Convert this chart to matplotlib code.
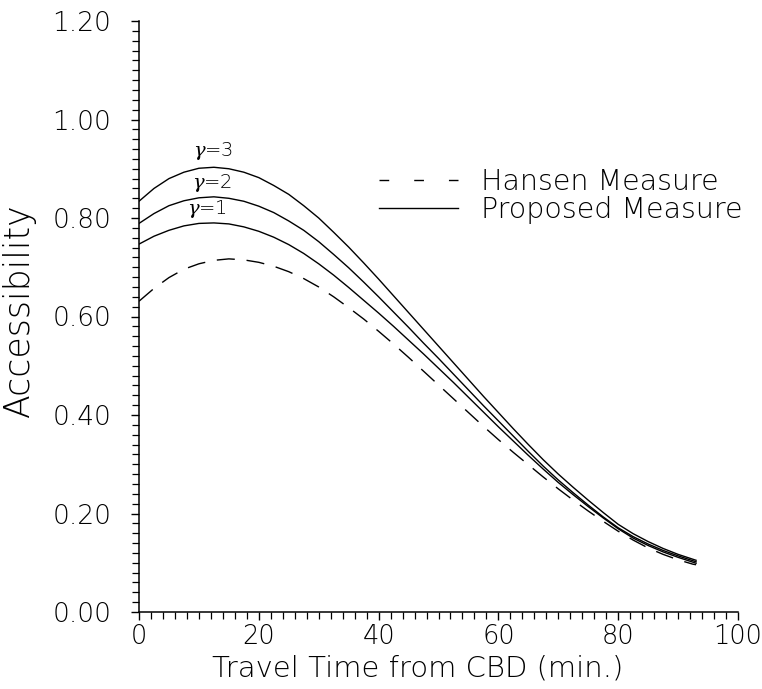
import os
import matplotlib
matplotlib.use("Agg")
import matplotlib.pyplot as plt
import matplotlib.font_manager as fm
from matplotlib.lines import Line2D
from matplotlib.ticker import MultipleLocator, FormatStrFormatter

# travel time from CBD (min.)
t = [0, 2.5, 5, 7.5, 10, 12.5, 15, 17.5, 20, 22.5, 25, 27.5, 30, 32.5, 35, 37.5, 40,
     42.5, 45, 47.5, 50, 52.5, 55, 57.5, 60, 62.5, 65, 67.5, 70, 72.5, 75, 77.5, 80,
     82.5, 85, 87.5, 90, 92.5, 93]

gamma3 = [0.834, 0.860, 0.880, 0.893, 0.901, 0.903, 0.900, 0.893, 0.882, 0.866, 0.848,
          0.825, 0.800, 0.771, 0.741, 0.709, 0.676, 0.642, 0.608, 0.574, 0.540, 0.506,
          0.472, 0.438, 0.405, 0.372, 0.340, 0.309, 0.280, 0.253, 0.227, 0.202, 0.178,
          0.159, 0.143, 0.129, 0.117, 0.107, 0.105]
gamma2 = [0.789, 0.809, 0.825, 0.835, 0.841, 0.843, 0.840, 0.834, 0.824, 0.811, 0.794,
          0.775, 0.752, 0.726, 0.699, 0.670, 0.640, 0.609, 0.578, 0.546, 0.515, 0.483,
          0.451, 0.419, 0.388, 0.357, 0.326, 0.296, 0.268, 0.242, 0.217, 0.193, 0.171,
          0.153, 0.138, 0.125, 0.114, 0.104, 0.102]
gamma1 = [0.747, 0.763, 0.775, 0.784, 0.789, 0.790, 0.788, 0.782, 0.773, 0.761, 0.746,
          0.728, 0.707, 0.684, 0.659, 0.633, 0.607, 0.580, 0.552, 0.524, 0.495, 0.466,
          0.436, 0.406, 0.376, 0.347, 0.318, 0.290, 0.263, 0.238, 0.214, 0.191, 0.169,
          0.150, 0.135, 0.122, 0.111, 0.101, 0.099]
hansen = [0.631, 0.657, 0.679, 0.696, 0.707, 0.714, 0.717, 0.715, 0.710, 0.702, 0.691,
          0.677, 0.660, 0.640, 0.618, 0.595, 0.570, 0.544, 0.517, 0.489, 0.461, 0.433,
          0.405, 0.377, 0.350, 0.324, 0.299, 0.274, 0.250, 0.227, 0.205, 0.184, 0.164,
          0.146, 0.130, 0.117, 0.106, 0.097, 0.096]

curve_labels = ["$\\gamma$=3", "$\\gamma$=2", "$\\gamma$=1"]
label_t = [12.4, 12.3, 11.3]
label_y = [0.937, 0.872, 0.819]

legend_labels = ["Hansen Measure", "Proposed Measure"]
x_ticks = [0, 20, 40, 60, 80, 100]
y_ticks = [0.0, 0.2, 0.4, 0.6, 0.8, 1.0, 1.2]

# pick a thin sans-serif font if one is installed
files = {os.path.basename(f.fname) for f in fm.fontManager.ttflist}
if 'DejaVuSans-ExtraLight.ttf' in files:
    fam, wt = 'DejaVu Sans', 200
elif any(n.startswith('Lato-Light') for n in files):
    fam, wt = 'Lato', 300
elif any(n.startswith('Roboto-Light') for n in files):
    fam, wt = 'Roboto', 300
else:
    fam, wt = 'DejaVu Sans', 400

plt.rcParams['font.family'] = [fam, 'DejaVu Sans']
plt.rcParams['font.weight'] = wt
plt.rcParams['axes.labelweight'] = wt
plt.rcParams['mathtext.fontset'] = 'dejavuserif'

fig = plt.figure(figsize=(7.62, 6.89), dpi=100)
ax = fig.add_axes([139/762, 1-612/689, (738-139)/762, (612-21)/689])

lw = 1.0
ax.plot(t, gamma3, color='black', lw=lw)
ax.plot(t, gamma2, color='black', lw=lw)
ax.plot(t, gamma1, color='black', lw=lw)
ax.plot(t, hansen, color='black', lw=lw, dashes=(13, 8.5))

for s, xx, yy in zip(curve_labels, label_t, label_y):
    ax.text(xx, yy, s, ha='center', va='center', fontsize=14)

ax.set_xlim(0, 100)
ax.set_ylim(0, 1.2)
ax.set_xticks(x_ticks)
ax.set_yticks(y_ticks)
ax.xaxis.set_minor_locator(MultipleLocator(2))
ax.yaxis.set_minor_locator(MultipleLocator(0.02))
ax.yaxis.set_major_formatter(FormatStrFormatter('%.2f'))

for sp in ['top', 'right']:
    ax.spines[sp].set_visible(False)
for sp in ['left', 'bottom']:
    ax.spines[sp].set_linewidth(1.1)

ax.tick_params(axis='both', which='major', direction='out', length=6, width=1.0, color='black')
ax.tick_params(axis='both', which='minor', direction='out', length=5, width=0.9, color='black')
ax.tick_params(axis='y', which='major', labelsize=19, pad=14)
ax.tick_params(axis='x', which='major', labelsize=18.5, pad=3)

ax.set_xlabel("Travel Time from CBD (min.)", fontsize=21)
ax.xaxis.set_label_coords(0.466, -0.072)
ax.set_ylabel("Accessibility", fontsize=25)
ax.yaxis.set_label_coords(-0.172, 0.51)

handles = [Line2D([], [], color='black', lw=lw, dashes=(7, 18)),
           Line2D([], [], color='black', lw=lw)]
fig.legend(handles, legend_labels, loc='upper left',
           bbox_to_anchor=(379/762, 1-168/689), frameon=False, fontsize=20.5,
           handlelength=2.77, handletextpad=0.8, labelspacing=0.0,
           borderpad=0, borderaxespad=0)

fig.savefig("out.png", dpi=100)
